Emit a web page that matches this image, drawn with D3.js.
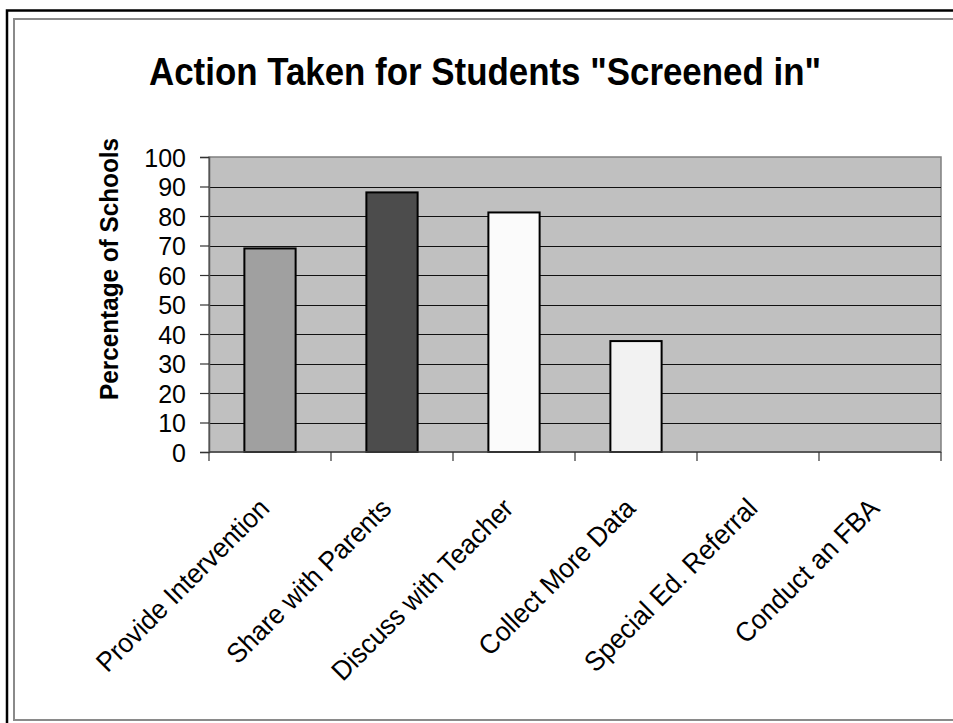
<!DOCTYPE html>
<html>
<head>
<meta charset="utf-8">
<script src="https://cdn.jsdelivr.net/npm/d3@7"></script>
<style>
  html, body { margin: 0; padding: 0; background: #fff; }
  svg { display: block; }
  text { font-family: "Liberation Sans", Arial, sans-serif; }
</style>
</head>
<body>
<svg id="chart" width="953" height="723"></svg>
<script>
const categories = ["Provide Intervention", "Share with Parents", "Discuss with Teacher", "Collect More Data", "Special Ed. Referral", "Conduct an FBA"];
const values = [69, 88, 81.2, 37.6, 0, 0];
const barColors = ["#a0a0a0", "#4c4c4c", "#fbfbfb", "#f2f2f2", "#c0c0c0", "#c0c0c0"];
const yTicks = [0, 10, 20, 30, 40, 50, 60, 70, 80, 90, 100];
const titleText = "Action Taken for Students \"Screened in\"";
const yTitleText = "Percentage of Schools";

const svg = d3.select("#chart");
const W = 953, H = 723;
const plot = { left: 209, right: 941, top: 157, bottom: 452 };

// outer frames
svg.append("rect").attr("x", 7).attr("y", 10.5).attr("width", W + 20).attr("height", H + 20)
  .attr("fill", "#fff").attr("stroke", "#000").attr("stroke-width", 2.5);
svg.append("rect").attr("x", 14).attr("y", 19).attr("width", W + 20).attr("height", 701)
  .attr("fill", "none").attr("stroke", "#8a8a8a").attr("stroke-width", 2);

const x = d3.scaleBand().domain(categories).range([plot.left, plot.right]).padding(0);
const y = d3.scaleLinear().domain([0, 100]).range([plot.bottom, plot.top]);

// plot background
svg.append("rect").attr("x", plot.left).attr("y", plot.top)
  .attr("width", plot.right - plot.left).attr("height", plot.bottom - plot.top)
  .attr("fill", "#c0c0c0").attr("stroke", "#808080").attr("stroke-width", 1.5);

// gridlines
svg.append("g").selectAll("line").data(yTicks.filter(d => d > 0 && d < 100)).join("line")
  .attr("x1", plot.left).attr("x2", plot.right)
  .attr("y1", d => Math.round(y(d)) + 0.5).attr("y2", d => Math.round(y(d)) + 0.5)
  .attr("stroke", "#111").attr("stroke-width", 1.2);

// bars
const barW = x.bandwidth() * 0.42;
svg.append("g").selectAll("rect").data(categories.map((c, i) => ({ c, v: values[i], col: barColors[i] })).filter(d => d.v > 0))
  .join("rect")
  .attr("x", d => x(d.c) + (x.bandwidth() - barW) / 2)
  .attr("y", d => y(d.v))
  .attr("width", barW)
  .attr("height", d => y(0) - y(d.v))
  .attr("fill", d => d.col)
  .attr("stroke", "#000").attr("stroke-width", 2);

// y axis
const yAxis = d3.axisLeft(y).tickValues(yTicks).tickSize(9).tickPadding(14).tickFormat(d3.format("d"));
const gy = svg.append("g").attr("transform", `translate(${plot.left},0)`).call(yAxis);
gy.select(".domain").attr("stroke", "#555").attr("stroke-width", 1.5);
gy.selectAll(".tick line").attr("stroke", "#333").attr("stroke-width", 1.2);
gy.selectAll(".tick text").attr("font-size", 25).attr("fill", "#000")
  .attr("font-family", "Liberation Sans, Arial, sans-serif").attr("dy", "0.36em");

// x axis line and ticks at category boundaries
const boundaries = categories.map(c => x(c)).concat([plot.right]);
svg.append("line").attr("x1", plot.left).attr("x2", plot.right)
  .attr("y1", plot.bottom).attr("y2", plot.bottom).attr("stroke", "#444").attr("stroke-width", 1.5);
svg.append("g").selectAll("line").data(boundaries).join("line")
  .attr("x1", d => d).attr("x2", d => d)
  .attr("y1", plot.bottom).attr("y2", plot.bottom + 9)
  .attr("stroke", "#333").attr("stroke-width", 1.2);

// x labels, rotated (slightly tall glyphs, width kept as at 26px)
const xl = svg.append("g").selectAll("text").data(categories).join("text")
  .attr("transform", d => `translate(${x(d) + x.bandwidth() / 2 + 1},${plot.bottom + 58}) rotate(-45)`)
  .attr("text-anchor", "end")
  .attr("font-size", 26)
  .attr("fill", "#000")
  .text(d => d);
xl.each(function() {
  const len = this.getComputedTextLength();
  d3.select(this).attr("font-size", 27.5).attr("textLength", len).attr("lengthAdjust", "spacingAndGlyphs");
});

// title
svg.append("text").attr("x", 485).attr("y", 85).attr("text-anchor", "middle")
  .attr("font-size", 38).attr("font-weight", "bold").attr("fill", "#000")
  .attr("textLength", 672).attr("lengthAdjust", "spacingAndGlyphs")
  .text(titleText);

// y title
svg.append("text").attr("transform", "translate(118,269) rotate(-90)")
  .attr("text-anchor", "middle").attr("font-size", 26).attr("font-weight", "bold").attr("fill", "#000")
  .attr("textLength", 262).attr("lengthAdjust", "spacingAndGlyphs")
  .text(yTitleText);
</script>
</body>
</html>
